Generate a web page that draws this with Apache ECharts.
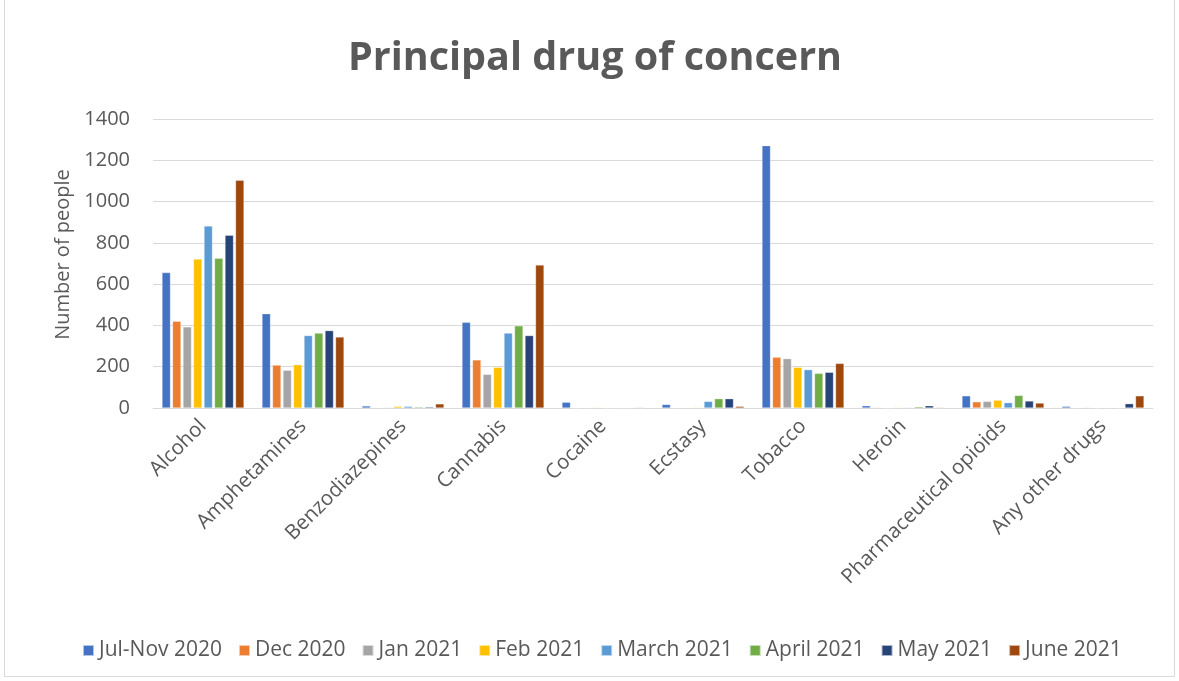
<!DOCTYPE html>
<html>
<head>
<meta charset="utf-8">
<script src="https://cdn.jsdelivr.net/npm/echarts@6/dist/echarts.min.js"></script>
<style>
    html, body { margin: 0; padding: 0; background: #fff; }
    #frame { position: absolute; left: 4px; top: -1px; width: 1171px; height: 678px; border: 1px solid #d9d9d9; box-sizing: border-box; }
    #chart { position: absolute; left: 0; top: 0; width: 1179px; height: 681px; }
</style>
</head>
<body>
<div id="frame"></div>
<div id="chart"></div>
<script>
    // categories and series
    const drugs = ['Alcohol', 'Amphetamines', 'Benzodiazepines', 'Cannabis', 'Cocaine',
        'Ecstasy', 'Tobacco', 'Heroin', 'Pharmaceutical opioids', 'Any other drugs']
    const periods = ['Jul-Nov 2020', 'Dec 2020', 'Jan 2021', 'Feb 2021',
        'March 2021', 'April 2021', 'May 2021', 'June 2021']

    const julNov2020 = [656, 457, 10, 415, 28, 17, 1271, 11, 59, 8]
    const dec2020 = [420, 208, 2, 233, 1, 2, 246, 3, 30, 2]
    const jan2021 = [393, 183, 3, 163, 2, 2, 239, 1, 32, 3]
    const feb2021 = [722, 210, 8, 197, 3, 3, 197, 3, 38, 1]
    const mar2021 = [882, 351, 8, 363, 1, 32, 186, 3, 26, 2]
    const apr2021 = [725, 363, 5, 398, 1, 45, 168, 6, 61, 1]
    const may2021 = [837, 375, 5, 351, 1, 45, 173, 11, 34, 21]
    const jun2021 = [1103, 344, 20, 693, 3, 8, 216, 3, 24, 59]

    const yTicks = [0, 200, 400, 600, 800, 1000, 1200, 1400]

    const colors = ['#4472C4', '#ED7D31', '#A5A5A5', '#FFC000', '#5B9BD5', '#70AD47', '#264478', '#9E480E']
    const seriesValues = [julNov2020, dec2020, jan2021, feb2021, mar2021, apr2021, may2021, jun2021]

    const font = 'Open Sans, sans-serif'
    const myChart = echarts.init(document.getElementById('chart'))

    const option = {
        animation: false,
        color: colors,
        title: {
            text: 'Principal drug of concern',
            left: 343,
            top: 34,
            textStyle: {
                color: '#595959',
                fontFamily: font,
                fontWeight: 'bold',
                fontSize: 39.5
            }
        },
        legend: {
            bottom: 15,
            left: 77,
            itemWidth: 11,
            itemHeight: 11,
            itemGap: 16,
            icon: 'rect',
            textStyle: {
                color: '#595959',
                fontFamily: font,
                fontSize: 21,
                padding: [0, 0, 0, 0]
            },
            data: periods
        },
        grid: {
            left: 153,
            right: 26,
            top: 119,
            bottom: 273,
            containLabel: false
        },
        xAxis: {
            type: 'category',
            data: drugs,
            axisTick: { show: false },
            axisLine: {
                lineStyle: { color: '#d9d9d9', width: 1 }
            },
            axisLabel: {
                rotate: 45,
                interval: 0,
                margin: 15,
                color: '#595959',
                fontFamily: font,
                fontSize: 20.5
            }
        },
        yAxis: {
            type: 'value',
            min: yTicks[0],
            max: yTicks[yTicks.length - 1],
            interval: 200,
            name: 'Number of people',
            nameLocation: 'middle',
            nameGap: 78,
            nameTextStyle: {
                color: '#595959',
                fontFamily: font,
                fontSize: 20,
                padding: [0, 0, 0, 18]
            },
            axisLine: { show: false },
            axisTick: { show: false },
            axisLabel: {
                margin: 23,
                color: '#595959',
                fontFamily: font,
                fontSize: 20,
                formatter: function (v) { return String(v) }
            },
            splitLine: {
                lineStyle: { color: '#d9d9d9', width: 1 }
            }
        },
        series: periods.map(function (name, i) {
            return {
                name: name,
                type: 'bar',
                barCategoryGap: '18%',
                barGap: '24%',
                itemStyle: {
                    color: colors[i],
                    borderColor: 'rgba(255,255,255,0.6)',
                    borderWidth: 0.5
                },
                data: seriesValues[i]
            }
        })
    }

    option && myChart.setOption(option)
    window.addEventListener('resize', () => {
        myChart.resize()
    })
</script>
</body>
</html>
